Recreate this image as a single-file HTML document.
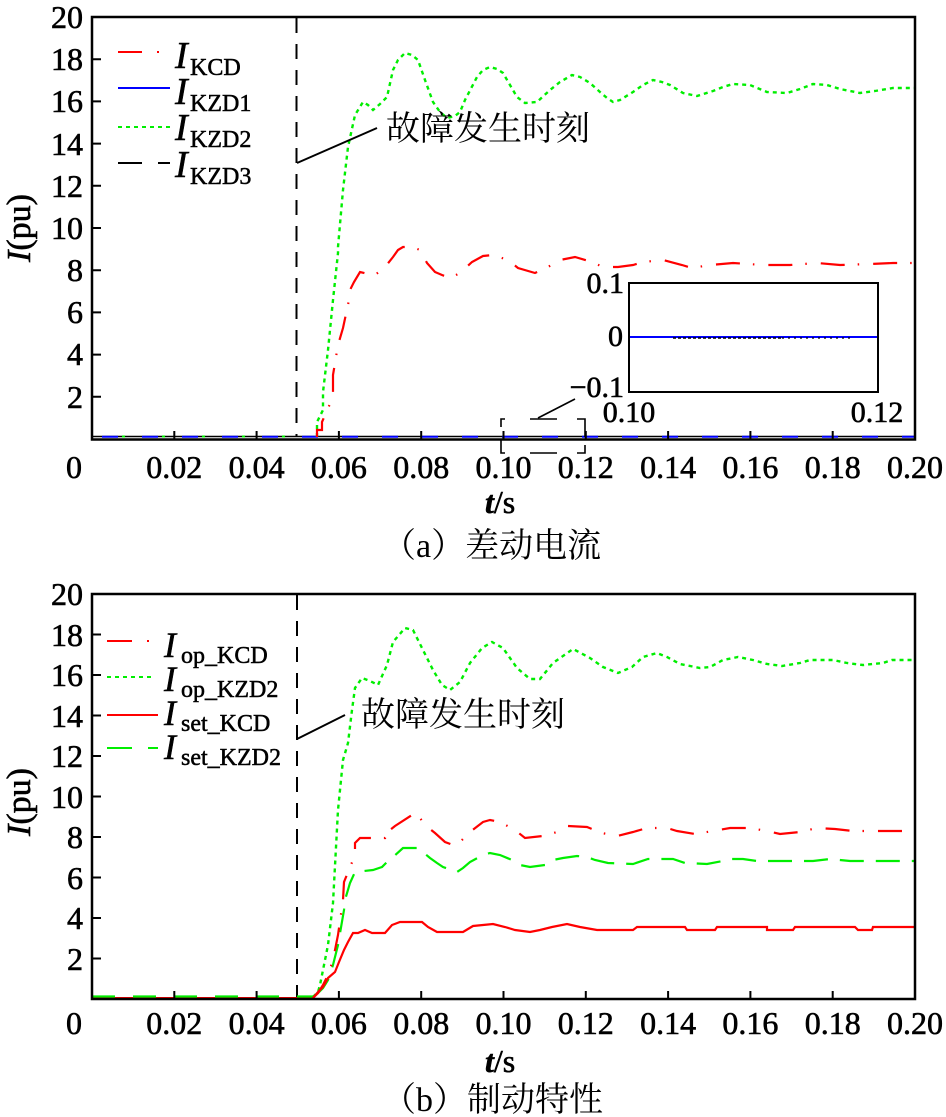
<!DOCTYPE html>
<html>
<head>
<meta charset="utf-8">
<style>
html,body{margin:0;padding:0;background:#fff;}
svg{display:block;}
.t{font-family:"Liberation Serif","Noto Serif CJK SC",serif;fill:#000;}
.tb{font-family:"Liberation Serif","Noto Serif CJK SC",serif;fill:#000;stroke:#000;stroke-width:0.6px;}
.cn{font-family:"Liberation Serif","Noto Serif CJK SC","Noto Sans CJK SC",serif;fill:#000;}
</style>
</head>
<body>
<svg width="946" height="1117" viewBox="0 0 946 1117" xmlns="http://www.w3.org/2000/svg">
<rect width="946" height="1117" fill="#fff"/>

<!-- ================= TOP PLOT ================= -->
<g fill="none" stroke-linejoin="miter">
  <line x1="296.5" y1="18" x2="296.5" y2="437" stroke="#000" stroke-width="2" stroke-dasharray="15 11"/>
  <line x1="92" y1="436.5" x2="915" y2="436.5" stroke="#000" stroke-width="1.6"/>
  <line x1="92" y1="436.8" x2="915" y2="436.8" stroke="#0000ff" stroke-width="2" stroke-dasharray="16 24" stroke-dashoffset="-10"/>
  <line x1="92" y1="436.5" x2="317" y2="436.5" stroke="#00ee00" stroke-width="2" stroke-dasharray="3 37" stroke-dashoffset="-30"/>

  <polyline stroke="#00ee00" stroke-width="2.4" stroke-dasharray="4 4" points="317,437 317,422 323,410 323,392 328,350 333,300 338,253 338,247 343,190 348,147 355,115 363,102 368,105 373,110 380,104 387,97 393,70 398,60 405,53 412,55 418,60 425,80 433,102 440,112 447,118 455,116 460,112 465,100 477,77 483,70 490,67 497,69 503,73 510,85 517,97 525,103 537,102 550,90 560,82 572,75 580,77 590,83 600,92 607,98 613,102 620,100 633,92 643,85 653,80 662,82 670,85 683,93 697,96 713,91 723,87 733,84 750,85 767,92 787,93 800,89 813,84 827,85 840,89 860,93 875,91 893,88 915,88"/>

  <polyline stroke="#ff0000" stroke-width="2.2" stroke-dasharray="24 13 1.5 14" points="317,437 317,430 322,430 322,422 333,397 333,375 338,345 343,328 349,300 349,292 354,282 360,272 368,274 375,275 385,267 393,257 398,250 403,247 412,247 420,250 427,263 435,272 442,275 450,278 460,273 472,262 483,256 493,255 508,260 518,268 535,273 548,267 560,260 575,257 592,262 603,267 618,267 633,265 643,262 663,260 682,265 692,268 710,265 733,263 763,265 790,265 817,263 840,265 870,264 893,263 915,263"/>

  <rect x="92" y="17" width="823" height="422.5" stroke="#000" stroke-width="2.5"/>
  <path stroke="#000" stroke-width="2" d="M92 396.8h9M92 354.6h9M92 312.4h9M92 270.2h9M92 228h9M92 185.8h9M92 143.6h9M92 101.4h9M92 59.2h9"/>
  <path stroke="#000" stroke-width="2" d="M174.3 439v-8M256.6 439v-8M338.9 439v-8M421.2 439v-8M503.5 439v-8M585.8 439v-8M668.1 439v-8M750.4 439v-8M832.7 439v-8"/>

  <path stroke="#000" stroke-width="1.6" d="M501 427V419H505M530 419H557M577 419H585V437M501 440V453H505M530 453H557M577 453H585V445"/>
  <line x1="538" y1="418" x2="575" y2="399" stroke="#000" stroke-width="1.6"/>

  <line x1="297" y1="163" x2="377" y2="128" stroke="#000" stroke-width="2"/>

  <rect x="629" y="283" width="249" height="109" fill="#fff" stroke="#000" stroke-width="2"/>
  <line x1="630" y1="337" x2="877" y2="337" stroke="#0000ff" stroke-width="2"/>
  <line x1="673" y1="338" x2="782" y2="338" stroke="#000" stroke-width="1.5" stroke-dasharray="3 2"/>
  <line x1="782" y1="338" x2="852" y2="338" stroke="#000" stroke-width="1.2" stroke-dasharray="2 4"/>

  <path stroke="#ff0000" stroke-width="2" d="M118 52H142M157 52H159"/>
  <line x1="118" y1="88" x2="170" y2="88" stroke="#0000ff" stroke-width="2"/>
  <line x1="118" y1="127" x2="172" y2="127" stroke="#00ee00" stroke-width="2" stroke-dasharray="4 4"/>
  <path stroke="#000" stroke-width="2" d="M118 163H142M158 163H170"/>
</g>

<g class="tb" font-size="32" text-anchor="end">
  <text x="83" y="28">20</text>
  <text x="83" y="70">18</text>
  <text x="83" y="112">16</text>
  <text x="83" y="155">14</text>
  <text x="83" y="197">12</text>
  <text x="83" y="239">10</text>
  <text x="83" y="281">8</text>
  <text x="83" y="323">6</text>
  <text x="83" y="365">4</text>
  <text x="83" y="408">2</text>
</g>
<g class="tb" font-size="32" text-anchor="middle">
  <text x="74" y="478">0</text>
  <text x="174.3" y="478">0.02</text>
  <text x="256.6" y="478">0.04</text>
  <text x="338.9" y="478">0.06</text>
  <text x="421.2" y="478">0.08</text>
  <text x="503.5" y="478">0.10</text>
  <text x="585.8" y="478">0.12</text>
  <text x="668.1" y="478">0.14</text>
  <text x="750.4" y="478">0.16</text>
  <text x="832.7" y="478">0.18</text>
  <text x="915" y="478">0.20</text>
</g>
<g class="tb" font-size="30">
  <text x="624" y="293" text-anchor="end">0.1</text>
  <text x="623" y="346" text-anchor="end">0</text>
  <text x="624" y="397" text-anchor="end">−0.1</text>
  <text x="629" y="422" text-anchor="middle">0.10</text>
  <text x="877" y="422" text-anchor="middle">0.12</text>
</g>

<g class="t" stroke="#000" stroke-width="0.5">
  <text x="175" y="68" font-size="38" font-style="italic">I</text><text x="190" y="75" font-size="24">KCD</text>
  <text x="175" y="104" font-size="38" font-style="italic">I</text><text x="190" y="111" font-size="24">KZD1</text>
  <text x="175" y="140" font-size="38" font-style="italic">I</text><text x="190" y="147" font-size="24">KZD2</text>
  <text x="175" y="177" font-size="38" font-style="italic">I</text><text x="190" y="184" font-size="24">KZD3</text>
</g>
<text class="cn" x="386" y="140" font-size="34">故障发生时刻</text>

<text class="tb" font-size="34" transform="translate(30,228) rotate(-90)" text-anchor="middle"><tspan font-style="italic">I</tspan>(pu)</text>
<text class="tb" font-size="32" x="485" y="513"><tspan font-style="italic" font-weight="bold">t</tspan>/s</text>
<text class="cn" font-size="34" x="382" y="557">（a）差动电流</text>

<!-- ================= BOTTOM PLOT ================= -->
<g fill="none">
  <line x1="297" y1="595" x2="297" y2="997" stroke="#000" stroke-width="2" stroke-dasharray="15 11"/>

  <line x1="92" y1="998" x2="313" y2="998" stroke="#ff0000" stroke-width="2"/>
  <line x1="92" y1="996.5" x2="313" y2="996.5" stroke="#00ee00" stroke-width="2.2" stroke-dasharray="23 18"/>

  <polyline stroke="#00ee00" stroke-width="2.4" stroke-dasharray="4 4" points="313,997 318,992 320,985 323,970 328,945 333,903 338,810 343,760 348,743 352,710 355,688 362,678 370,681 378,685 387,665 393,642 405,628 413,630 423,650 433,670 442,685 450,690 460,682 470,663 482,648 492,642 503,648 517,668 530,679 540,679 553,663 573,649 590,658 603,667 618,673 632,667 643,657 657,653 667,657 680,664 700,668 710,667 723,660 738,657 753,660 767,664 782,666 800,663 810,660 833,660 847,663 863,665 883,663 892,660 915,660"/>

  <polyline stroke="#00ee00" stroke-width="2.2" stroke-dasharray="24 12" points="313,996.5 318,993 323,988 328,980 333,965 338,945 344,910 345,900 350,883 355,872 373,870 382,867 387,862 392,858 403,848 418,848 430,858 437,863 443,867 457,872 463,868 470,862 483,855 490,853 500,855 512,860 520,865 530,867 545,865 553,860 563,858 577,856 587,857 595,860 608,863 633,864 648,859 673,859 685,863 707,864 723,861 730,859 743,859 757,861 813,861 830,859 850,861 915,861"/>

  <polyline stroke="#ff0000" stroke-width="2.2" stroke-dasharray="24 13 1.5 14" points="313,998 318,993 323,985 328,975 333,960 338,935 343,900 344,882 355,855 355,843 360,838 385,838 385,830 390,830 395,826 415,813 420,818 425,825 435,833 445,842 453,845 460,842 470,832 483,822 490,820 500,822 515,830 525,838 543,836 557,832 568,826 587,827 602,833 617,836 633,832 647,828 667,828 677,831 695,834 713,831 730,828 750,828 767,831 780,834 800,832 817,828 835,829 853,831 877,831 915,831"/>

  <polyline stroke="#ff0000" stroke-width="2.2" points="313,998 318,992 323,987 328,978 335,972 339,962 344,950 348,942 353,933 358,933 365,930 372,933 385,933 392,925 400,922 422,922 428,927 437,932 463,932 473,926 493,924 505,927 515,930 530,932 540,930 552,927 567,924 580,927 597,930 633,930 637,927 685,927 687,930 715,930 717,927 767,927 767,930 793,930 795,927 855,927 858,930 872,930 873,927 915,927"/>

  <rect x="92" y="594" width="823" height="405" stroke="#000" stroke-width="2.5"/>
  <path stroke="#000" stroke-width="2" d="M92 958.5h9M92 918h9M92 877.5h9M92 837h9M92 796.5h9M92 756h9M92 715.5h9M92 675h9M92 634.5h9"/>
  <path stroke="#000" stroke-width="2" d="M174.3 999v-8M256.6 999v-8M338.9 999v-8M421.2 999v-8M503.5 999v-8M585.8 999v-8M668.1 999v-8M750.4 999v-8M832.7 999v-8"/>

  <line x1="297" y1="739" x2="345" y2="715" stroke="#000" stroke-width="2"/>

  <path stroke="#ff0000" stroke-width="2" d="M107 641H132M147 641H149"/>
  <line x1="107" y1="677" x2="152" y2="677" stroke="#00ee00" stroke-width="2" stroke-dasharray="4 4"/>
  <line x1="107" y1="715" x2="158" y2="715" stroke="#ff0000" stroke-width="2"/>
  <path stroke="#00ee00" stroke-width="2" d="M107 748H132M148 748H158"/>
</g>

<g class="tb" font-size="32" text-anchor="end">
  <text x="83" y="605">20</text>
  <text x="83" y="646">18</text>
  <text x="83" y="686">16</text>
  <text x="83" y="727">14</text>
  <text x="83" y="767">12</text>
  <text x="83" y="808">10</text>
  <text x="83" y="848">8</text>
  <text x="83" y="889">6</text>
  <text x="83" y="929">4</text>
  <text x="83" y="970">2</text>
</g>
<g class="tb" font-size="32" text-anchor="middle">
  <text x="74" y="1034">0</text>
  <text x="174.3" y="1034">0.02</text>
  <text x="256.6" y="1034">0.04</text>
  <text x="338.9" y="1034">0.06</text>
  <text x="421.2" y="1034">0.08</text>
  <text x="503.5" y="1034">0.10</text>
  <text x="585.8" y="1034">0.12</text>
  <text x="668.1" y="1034">0.14</text>
  <text x="750.4" y="1034">0.16</text>
  <text x="832.7" y="1034">0.18</text>
  <text x="915" y="1034">0.20</text>
</g>

<g class="t" stroke="#000" stroke-width="0.5">
  <text x="164" y="657" font-size="36" font-style="italic">I</text><text x="181" y="663" font-size="24">op_KCD</text>
  <text x="164" y="691" font-size="36" font-style="italic">I</text><text x="181" y="697" font-size="24">op_KZD2</text>
  <text x="164" y="725" font-size="36" font-style="italic">I</text><text x="181" y="731" font-size="24">set_KCD</text>
  <text x="164" y="759" font-size="36" font-style="italic">I</text><text x="181" y="765" font-size="24">set_KZD2</text>
</g>
<text class="cn" x="361" y="726" font-size="34">故障发生时刻</text>

<text class="tb" font-size="34" transform="translate(30,802) rotate(-90)" text-anchor="middle"><tspan font-style="italic">I</tspan>(pu)</text>
<text class="tb" font-size="32" x="485" y="1072"><tspan font-style="italic" font-weight="bold">t</tspan>/s</text>
<text class="cn" font-size="34" x="382" y="1111">（b）制动特性</text>
</svg>
</body>
</html>
